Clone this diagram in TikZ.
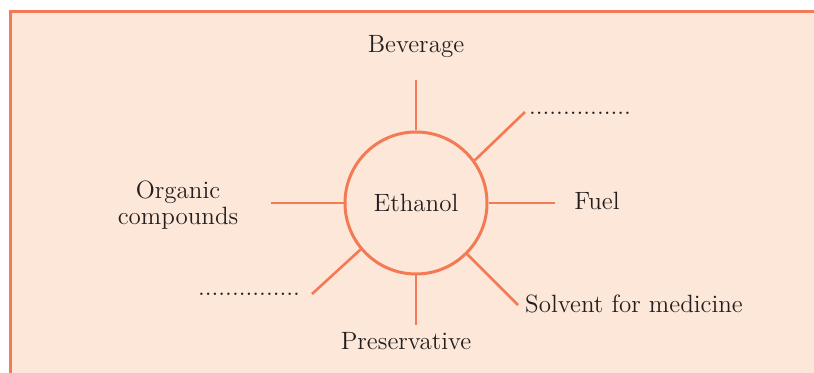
\documentclass[tikz,border=0pt]{standalone}
\usepackage{tikz}
\usetikzlibrary{positioning}

\definecolor{peach}{HTML}{FDE7D8}
\definecolor{rim}{HTML}{F47A55}
\definecolor{ink}{HTML}{231F20}

\begin{document}
\begin{tikzpicture}[
  x=0.5pt, y=-0.5pt,
  hub/.style={circle, draw=rim, line width=1.5pt, minimum size=71pt,
              inner sep=0pt, text=ink, font=\fontsize{12.5}{14}\selectfont},
  use/.style={text=ink, align=center, inner sep=0pt,
              font=\fontsize{12.5}{13}\selectfont},
  spoke/.style={draw=rim, line width=1.3pt},
]
\useasboundingbox (0,0) rectangle (814,373);
\fill[peach] (10,12) rectangle (814,373);
\draw[rim, line width=1.5pt] (10,373) -- (10,12) -- (814,12);

\node[hub] (eth) at (416,203) {Ethanol};

\coordinate (bevend) at (416,80);
\coordinate (blank1end) at (525,112);
\coordinate (fuelend) at (555,203);
\coordinate (solvend) at (518,305);
\coordinate (presend) at (416,325);
\coordinate (blank2end) at (312,294);
\coordinate (orgend) at (271,203);

\node[use] (bev) at (416,47) {Beverage};
\node[use] (blank1) at (580,113) {...............};
\node[use] (fuel) at (597,201) {Fuel};
\node[use] (solv) at (634,304) {Solvent for medicine};
\node[use] (pres) at (406,341) {Preservative};
\node[use] (blank2) at (249,294) {...............};
\node[use] (org) at (178,205) {Organic\\compounds};

\draw[spoke] (eth.north) -- (bevend);
\draw[spoke] (eth.36) -- (blank1end);
\draw[spoke] (eth.east) -- (fuelend);
\draw[spoke] (eth.-45) -- (solvend);
\draw[spoke] (eth.south) -- (presend);
\draw[spoke] (eth.-140) -- (blank2end);
\draw[spoke] (eth.west) -- (orgend);
\end{tikzpicture}
\end{document}
